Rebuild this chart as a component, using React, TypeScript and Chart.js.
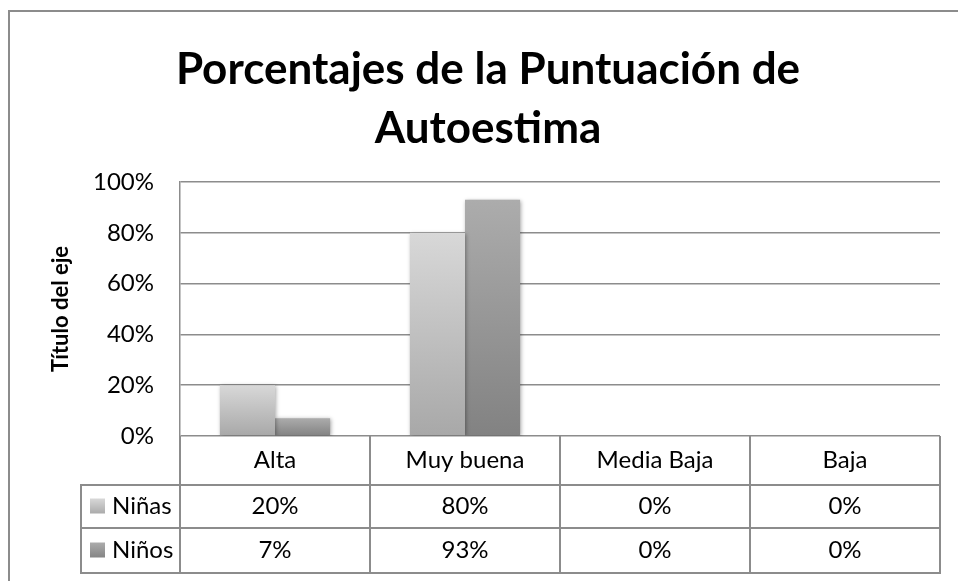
import React, { useEffect, useRef } from "react";
import { Chart, registerables } from "chart.js";

Chart.register(...registerables);

const categories = ["Alta", "Muy buena", "Media Baja", "Baja"];
const seriesNames = ["Niñas", "Niños"];
const ninas = [20, 80, 0, 0];
const ninos = [7, 93, 0, 0];
const yTickStep = 20;
const yMax = 100;
const titleLines = ["Porcentajes de la Puntuación de", "Autoestima"];
const yTitle = "Título del eje";

const FONT = "Lato, 'Open Sans', sans-serif";
const LINE = "#8c8c8c";
const gradStops = [
  ["#d8d8d8", "#a8a8a8"],
  ["#acacac", "#828282"],
];

function barGradient(seriesIdx: number) {
  return (c: any) => {
    const chart = c.chart;
    const y = chart.scales && chart.scales.y;
    if (!y || c.type !== "data") return gradStops[seriesIdx][1];
    const top = y.getPixelForValue(c.raw);
    const base = y.getPixelForValue(0);
    if (!isFinite(top) || !isFinite(base) || Math.abs(base - top) < 1) return gradStops[seriesIdx][1];
    const g = chart.ctx.createLinearGradient(0, top, 0, base);
    g.addColorStop(0, gradStops[seriesIdx][0]);
    g.addColorStop(1, gradStops[seriesIdx][1]);
    return g;
  };
}

const framePlugin = {
  id: "frame",
  beforeDraw(chart: any) {
    const { ctx, width, height } = chart;
    ctx.save();
    ctx.fillStyle = "#fff";
    ctx.fillRect(0, 0, width, height);
    ctx.strokeStyle = LINE;
    ctx.lineWidth = 2;
    ctx.beginPath();
    ctx.moveTo(9, height + 2);
    ctx.lineTo(9, 11);
    ctx.lineTo(width + 2, 11);
    ctx.stroke();
    // title
    ctx.fillStyle = "#000";
    ctx.font = `bold 44px ${FONT}`;
    ctx.textAlign = "center";
    ctx.textBaseline = "alphabetic";
    ctx.fillText(titleLines[0], 488, 84);
    ctx.fillText(titleLines[1], 488, 143);
    ctx.restore();
  },
};

const shadowPlugin = {
  id: "barShadow",
  beforeDatasetsDraw(chart: any) {
    const ctx = chart.ctx;
    ctx.save();
    ctx.shadowColor = "rgba(0,0,0,0.35)";
    ctx.shadowBlur = 4;
    ctx.shadowOffsetX = 1;
    ctx.shadowOffsetY = 1;
  },
  afterDatasetsDraw(chart: any) {
    chart.ctx.restore();
  },
};

const tablePlugin = {
  id: "dataTable",
  afterDraw(chart: any) {
    const { ctx, chartArea, scales } = chart;
    const xs = scales.x;
    const n = categories.length;
    const colW = (chartArea.right - chartArea.left) / n;
    const y0 = chartArea.bottom;
    const y1 = y0 + 49;
    const y2 = y1 + 43;
    const y3 = y2 + 45;
    const legendLeft = 81;
    ctx.save();
    ctx.strokeStyle = LINE;
    ctx.lineWidth = 2;
    ctx.beginPath();
    for (let i = 0; i <= n; i++) {
      const x = Math.round(xs.getPixelForValue(0) - colW / 2 + i * colW);
      ctx.moveTo(x, y0);
      ctx.lineTo(x, y3);
    }
    ctx.moveTo(legendLeft, y1);
    ctx.lineTo(legendLeft, y3);
    [y1, y2, y3].forEach((yy) => {
      ctx.moveTo(legendLeft - 1, yy);
      ctx.lineTo(chartArea.right + 1, yy);
    });
    ctx.stroke();

    ctx.fillStyle = "#000";
    ctx.font = `24px ${FONT}`;
    ctx.textAlign = "center";
    ctx.textBaseline = "middle";
    categories.forEach((c, i) => {
      ctx.fillText(c, xs.getPixelForValue(i), (y0 + y1) / 2);
    });
    const rows = [ninas, ninos];
    const rowTops = [y1, y2];
    const rowBots = [y2, y3];
    rows.forEach((vals, r) => {
      const cy = (rowTops[r] + rowBots[r]) / 2;
      ctx.textAlign = "center";
      ctx.fillStyle = "#000";
      vals.forEach((v, i) => {
        ctx.fillText(`${v}%`, xs.getPixelForValue(i), cy);
      });
      // legend key
      const g = ctx.createLinearGradient(0, cy - 8, 0, cy + 8);
      g.addColorStop(0, gradStops[r][0]);
      g.addColorStop(1, gradStops[r][1]);
      ctx.fillStyle = g;
      ctx.fillRect(90, cy - 8, 15, 15);
      ctx.fillStyle = "#000";
      ctx.textAlign = "left";
      ctx.fillText(seriesNames[r], 112, cy);
    });
    ctx.restore();
  },
};

export default function App() {
  const ref = useRef<HTMLCanvasElement | null>(null);
  useEffect(() => {
    if (!ref.current) return;
    const chart = new Chart(ref.current, {
      type: "bar",
      data: {
        labels: categories,
        datasets: [
          {
            label: seriesNames[0],
            data: ninas,
            backgroundColor: barGradient(0),
            borderWidth: 0,
            barPercentage: 1,
            categoryPercentage: 0.58,
          },
          {
            label: seriesNames[1],
            data: ninos,
            backgroundColor: barGradient(1),
            borderWidth: 0,
            barPercentage: 1,
            categoryPercentage: 0.58,
          },
        ],
      },
      options: {
        animation: false,
        responsive: false,
        events: [],
        layout: { padding: { top: 182, right: 18, bottom: 145, left: 0 } },
        plugins: {
          legend: { display: false },
          title: { display: false },
          tooltip: { enabled: false },
        },
        scales: {
          x: { display: false },
          y: {
            min: 0,
            max: yMax,
            afterFit: (s: any) => {
              s.width = 180;
            },
            ticks: {
              stepSize: yTickStep,
              padding: 26,
              color: "#000",
              font: { family: FONT, size: 24 },
              callback: (v: any) => `${v}%`,
            },
            grid: { color: LINE, lineWidth: 1.5, drawTicks: false },
            border: { display: true, color: LINE, width: 1.5 },
            title: {
              display: true,
              text: yTitle,
              color: "#000",
              font: { family: FONT, size: 22, weight: "bold" },
              padding: { top: 48, bottom: 0 },
            },
          },
        },
      },
      plugins: [framePlugin, shadowPlugin, tablePlugin],
    });
    return () => chart.destroy();
  }, []);
  return (
    <div style={{ position: "absolute", left: 0, top: 0, width: 958, height: 581 }}>
      <canvas ref={ref} width={958} height={581} style={{ display: "block" }} />
    </div>
  );
}
